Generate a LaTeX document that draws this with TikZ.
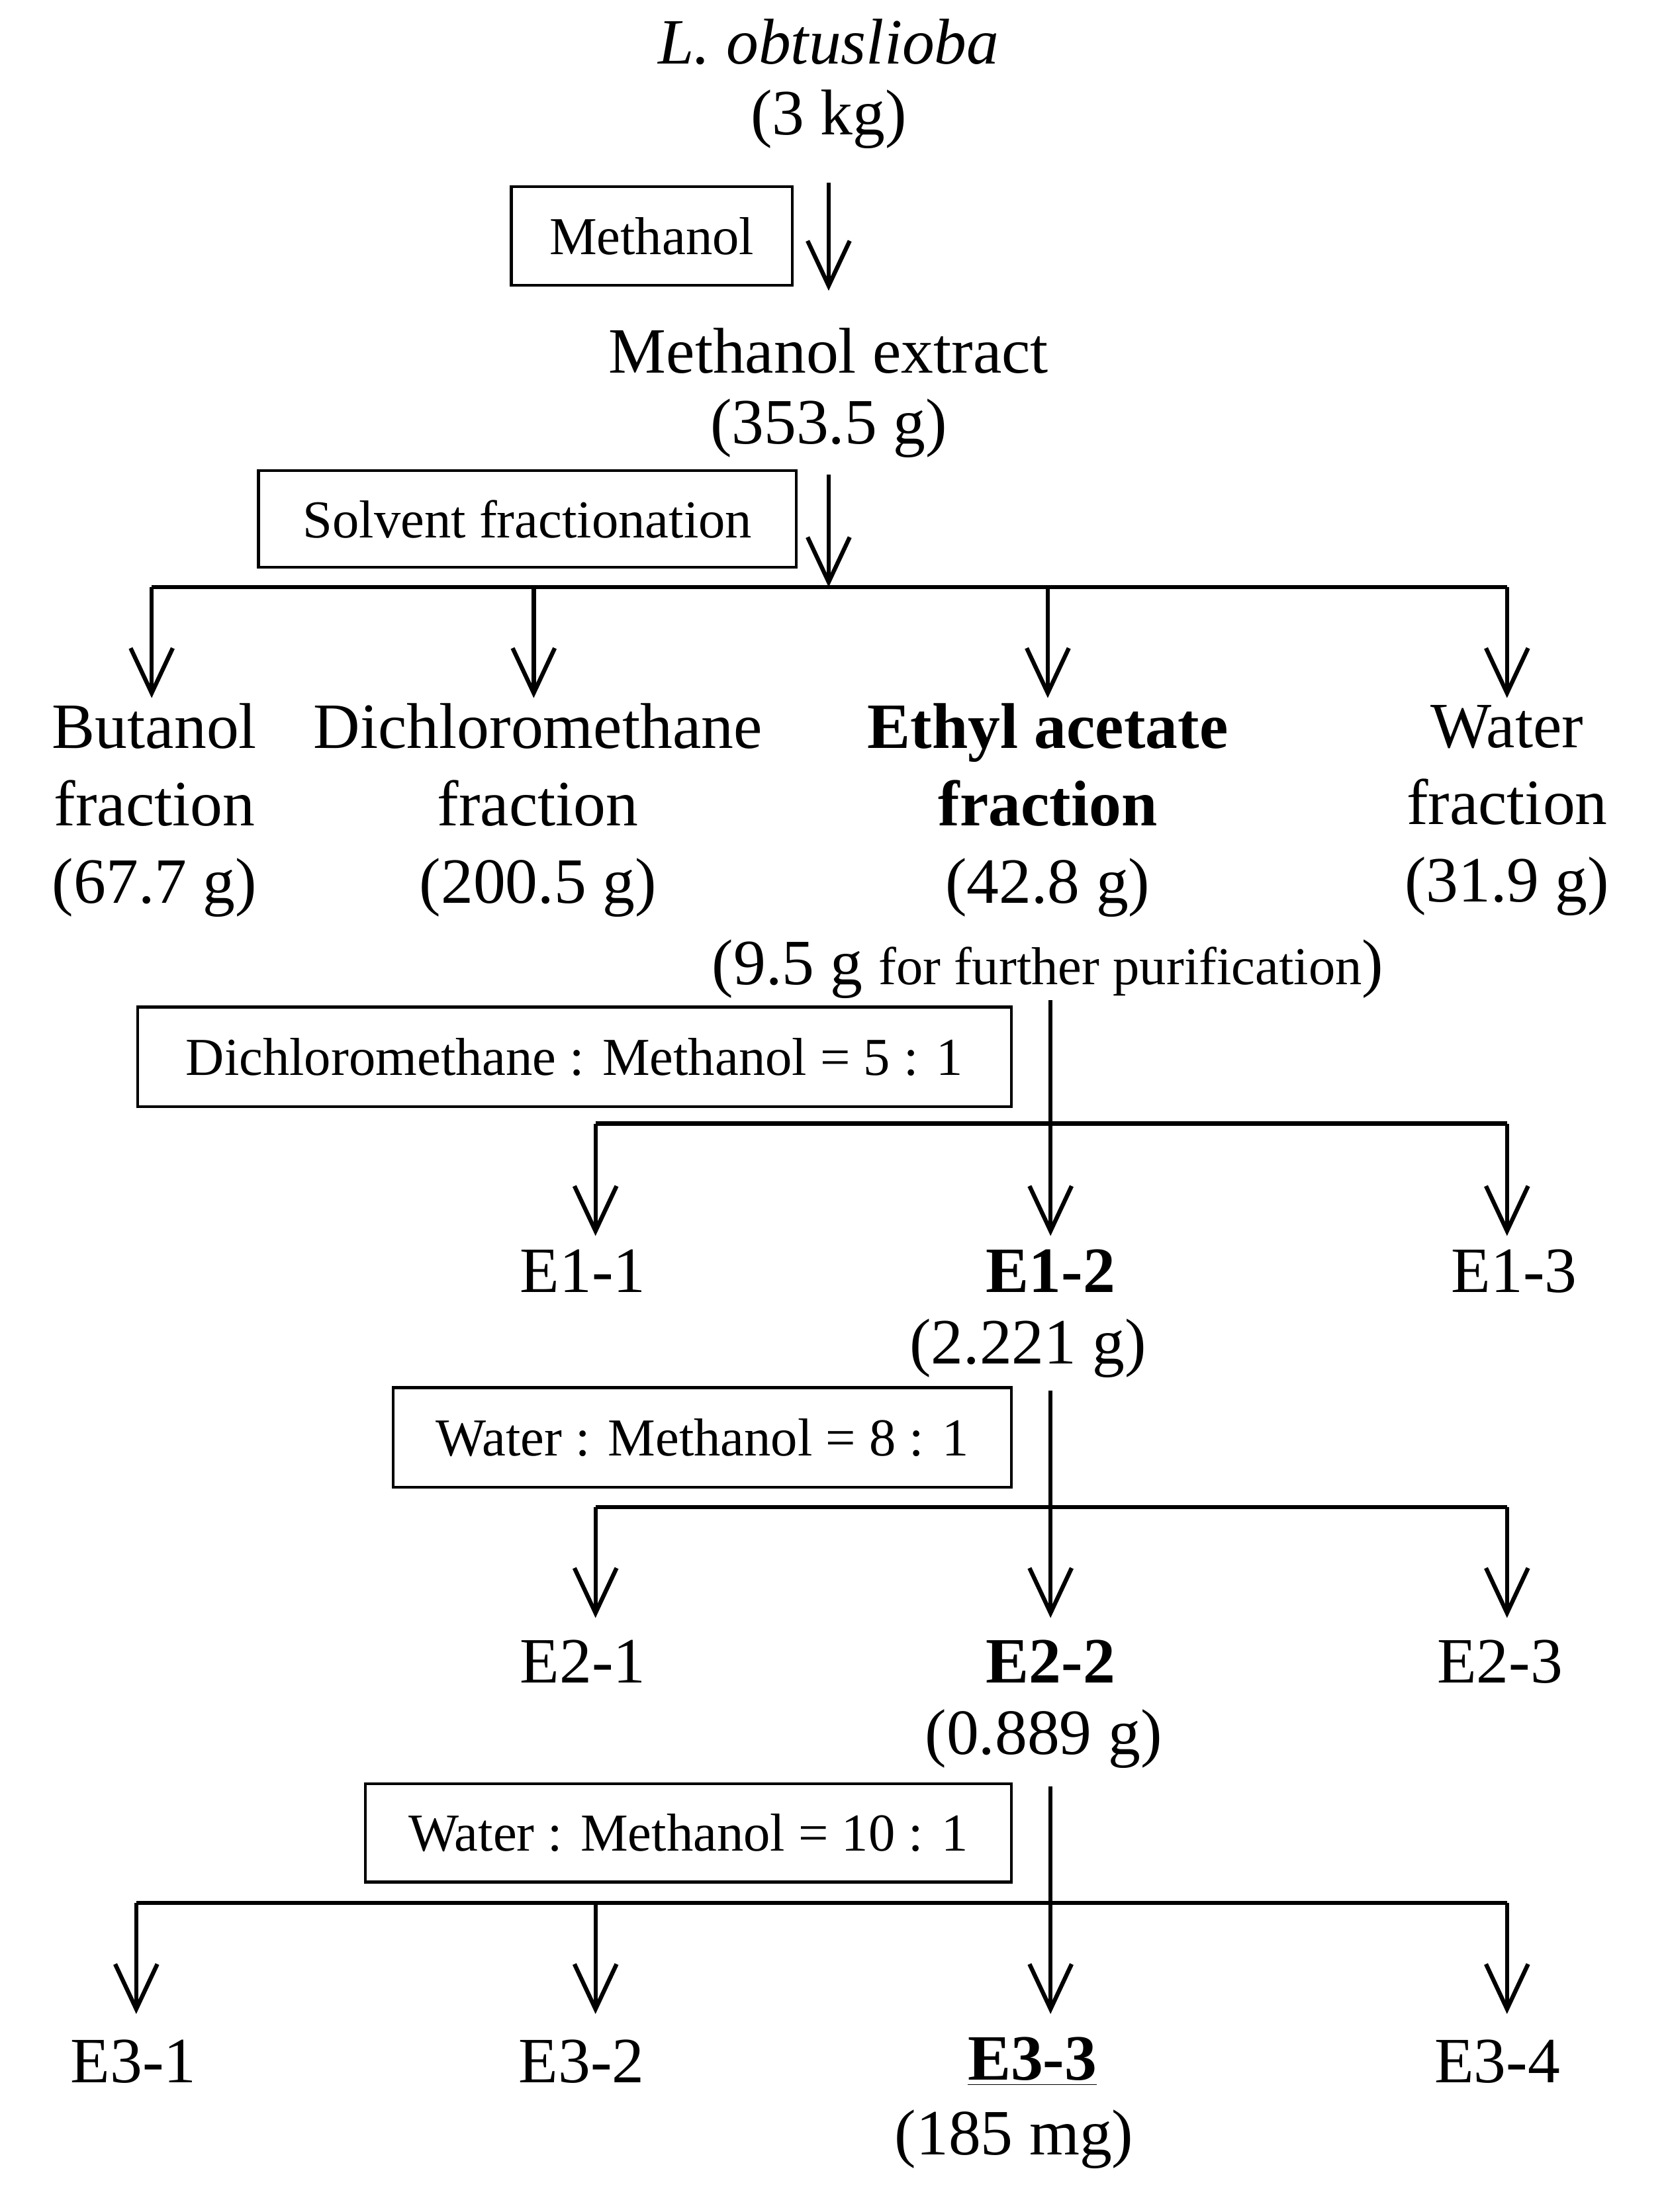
\documentclass[tikz,border=0pt]{standalone}
\usepackage{fontspec}
\setmainfont{Liberation Serif}
\usetikzlibrary{arrows.meta}
\begin{document}
\begin{tikzpicture}[x=0.5pt,y=-0.5pt,
  txt/.style={font=\fontsize{23}{27.5}\selectfont,align=center,inner sep=0},
  box/.style={draw,line width=1pt,font=\fontsize{19}{23}\selectfont,inner sep=0,anchor=center},
  ln/.style={line width=1.5pt},
  ar/.style={line width=1.5pt,-{Straight Barb[length=16pt,width=15pt,line width=1.5pt]}}]
\useasboundingbox (0,0) rectangle (1186,1575);
\node[txt] (src) at (590,30) {\textit{L. obtuslioba}};
\node[txt] (srcw) at (590,85) {(3 kg)};
\node[box,minimum width=100pt,minimum height=35pt] (b1) at (464,168) {Methanol};
\coordinate (a1s) at (590,130); \coordinate (a1e) at (590,207);
\draw[ar] (a1s) -- (a1e);
\node[txt] (ext) at (590,250) {Methanol extract};
\node[txt] (extw) at (590,305) {(353.5 g)};
\node[box,minimum width=191.5pt,minimum height=34.5pt] (b2) at (375.5,369.5) {Solvent fractionation};
\coordinate (a2s) at (590,338); \coordinate (h1) at (590,418);
\draw[ar] (a2s) -- (h1);
\coordinate (h1l) at (108,418); \coordinate (h1r) at (1073,418);
\draw[ln] (h1l) -- (h1r);
\foreach \x/\n in {108/f1,380/f2,746/f3,1073/f4}{
  \coordinate (\n s) at (\x,418); \coordinate (\n e) at (\x,497);
  \draw[ar] (\n s) -- (\n e);}
\node[txt] (but) at (110,577) {Butanol\\fraction\\(67.7 g)};
\node[txt] (dcm) at (383,577) {Dichloromethane\\fraction\\(200.5 g)};
\node[txt] (eth) at (746,577) {\textbf{Ethyl acetate}\\\textbf{fraction}\\(42.8 g)};
\node[txt] (wat) at (1073,577) {Water\\fraction\\(31.9 g)};
\node[txt] (pur) at (746,690) {(9.5 g {\fontsize{19}{23}\selectfont for further purification})};
\node[box,minimum width=311pt,minimum height=35.5pt] (b3) at (409,752.5) {Dichloromethane : Methanol = 5 : 1};
\coordinate (v1s) at (748,712); \coordinate (v1e) at (748,880);
\draw[ar] (v1s) -- (v1e);
\coordinate (h2l) at (424,800); \coordinate (h2r) at (1073,800);
\draw[ln] (h2l) -- (h2r);
\foreach \x/\n in {424/g1,1073/g3}{
  \coordinate (\n s) at (\x,800); \coordinate (\n e) at (\x,880);
  \draw[ar] (\n s) -- (\n e);}
\node[txt] (e11) at (415,905) {E1-1};
\node[txt] (e12) at (748,905) {\textbf{E1-2}};
\node[txt] (e12w) at (732,960) {(2.221 g)};
\node[txt] (e13) at (1078,905) {E1-3};
\node[box,minimum width=220pt,minimum height=35.5pt] (b4) at (500,1023.5) {Water : Methanol = 8 : 1};
\coordinate (v2s) at (748,990); \coordinate (v2e) at (748,1152);
\draw[ar] (v2s) -- (v2e);
\coordinate (h3l) at (424,1073); \coordinate (h3r) at (1073,1073);
\draw[ln] (h3l) -- (h3r);
\foreach \x/\n in {424/k1,1073/k3}{
  \coordinate (\n s) at (\x,1073); \coordinate (\n e) at (\x,1152);
  \draw[ar] (\n s) -- (\n e);}
\node[txt] (e21) at (415,1183) {E2-1};
\node[txt] (e22) at (748,1183) {\textbf{E2-2}};
\node[txt] (e22w) at (743,1238) {(0.889 g)};
\node[txt] (e23) at (1068,1183) {E2-3};
\node[box,minimum width=230pt,minimum height=35pt] (b5) at (490,1305) {Water : Methanol = 10 : 1};
\coordinate (v3s) at (748,1272); \coordinate (v3e) at (748,1434);
\draw[ar] (v3s) -- (v3e);
\coordinate (h4l) at (97,1355); \coordinate (h4r) at (1073,1355);
\draw[ln] (h4l) -- (h4r);
\foreach \x/\n in {97/m1,424/m2,1073/m4}{
  \coordinate (\n s) at (\x,1355); \coordinate (\n e) at (\x,1434);
  \draw[ar] (\n s) -- (\n e);}
\node[txt] (e31) at (95,1468) {E3-1};
\node[txt] (e32) at (414,1468) {E3-2};
\node[txt] (e33) at (735,1468) {\textbf{\underline{E3-3}}};
\node[txt] (e33w) at (722,1523) {(185 mg)};
\node[txt] (e34) at (1066,1468) {E3-4};
\end{tikzpicture}
\end{document}
